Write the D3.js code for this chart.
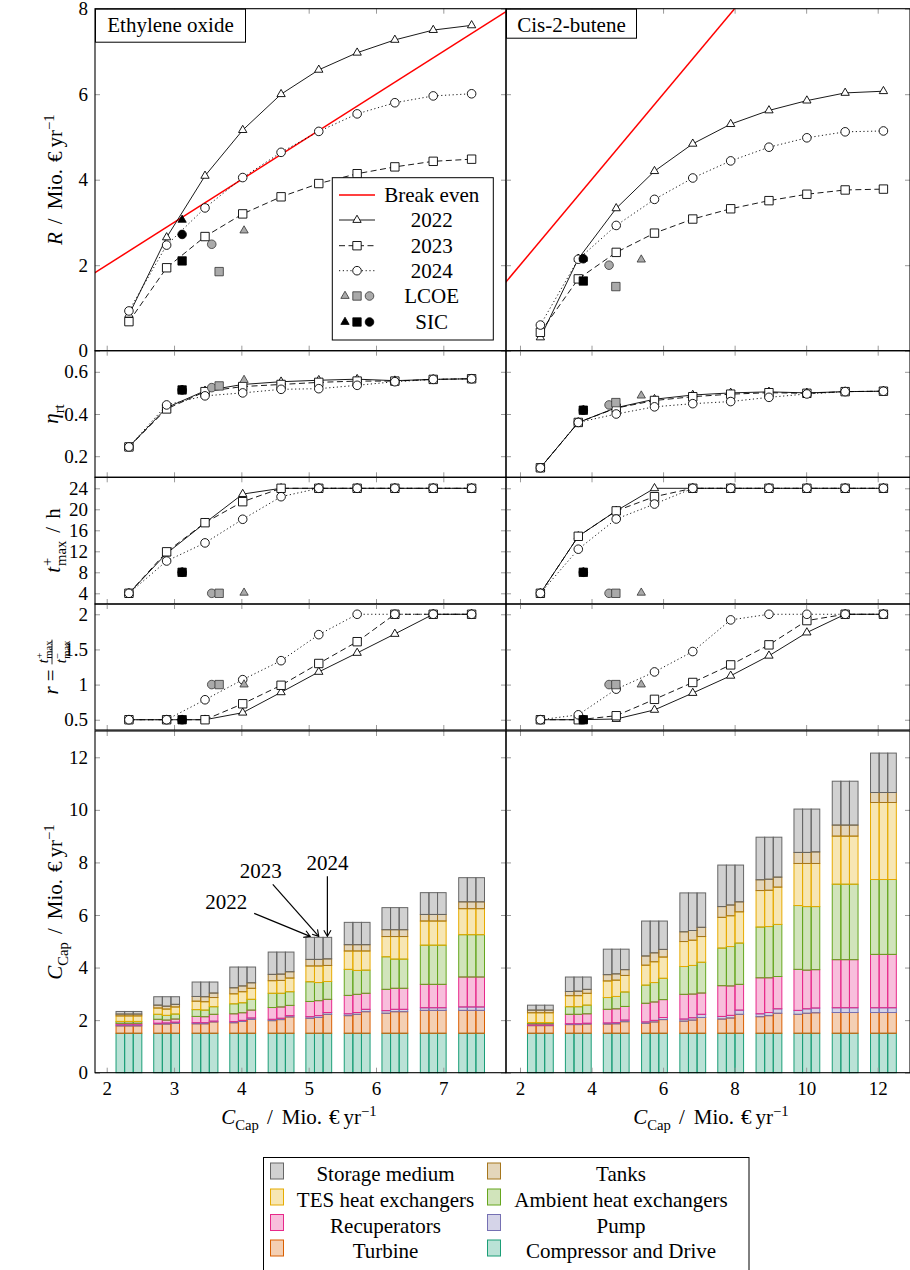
<!DOCTYPE html>
<html><head><meta charset="utf-8">
<script src="https://cdn.jsdelivr.net/npm/d3@7"></script>
<style>
body{margin:0;background:#fff}
svg{display:block}
svg text{font-family:"Liberation Serif","DejaVu Serif","Times New Roman",serif;fill:#000}
</style>
</head><body>
<svg id="c" width="910" height="1270" font-family="Liberation Serif, DejaVu Serif, serif"></svg>
<script>
// ---------------- DATA ----------------
const years = ["2022", "2023", "2024"];
// x positions (C_Cap, Mio. EUR/yr) of the ten design points
const eoC = [2.33, 2.89, 3.46, 4.02, 4.59, 5.15, 5.72, 6.28, 6.85, 7.42];
const cbC = [2.57, 3.63, 4.69, 5.76, 6.83, 7.89, 8.96, 10.02, 11.09, 12.16];

// x tick labels
const eoXTicks = [2, 3, 4, 5, 6, 7];
const cbXTicks = [2, 4, 6, 8, 10, 12];
// y tick labels
const rTicks = [0, 2, 4, 6, 8];
const etaTicks = [0.2, 0.4, 0.6];
const tTicks = [4, 8, 12, 16, 20, 24];
const ratioTicks = [0.5, 1, 1.5, 2];
const costTicks = [0, 2, 4, 6, 8, 10, 12];

// Break even line R = C
const breakEvenC = [0, 13];
const breakEvenR = [0, 13];

// Ethylene oxide: revenue R
const eoR2022 = [0.84, 2.65, 4.09, 5.16, 6.00, 6.57, 6.97, 7.27, 7.50, 7.61];
const eoR2023 = [0.68, 1.94, 2.67, 3.20, 3.60, 3.91, 4.14, 4.30, 4.43, 4.48];
const eoR2024 = [0.93, 2.47, 3.34, 4.05, 4.64, 5.13, 5.54, 5.80, 5.96, 6.01];
// Cis-2-butene: revenue R
const cbR2022 = [0.31, 2.15, 3.33, 4.20, 4.84, 5.30, 5.62, 5.85, 6.03, 6.07];
const cbR2023 = [0.43, 1.68, 2.30, 2.75, 3.08, 3.32, 3.51, 3.66, 3.76, 3.78];
const cbR2024 = [0.60, 2.14, 2.93, 3.54, 4.04, 4.44, 4.76, 4.98, 5.12, 5.14];

// round trip efficiency
const eoEta2022 = [0.244, 0.430, 0.510, 0.540, 0.553, 0.560, 0.565, 0.558, 0.564, 0.567];
const eoEta2023 = [0.244, 0.424, 0.506, 0.530, 0.540, 0.550, 0.556, 0.556, 0.564, 0.567];
const eoEta2024 = [0.244, 0.443, 0.486, 0.500, 0.517, 0.520, 0.536, 0.553, 0.564, 0.567];
const cbEta2022 = [0.145, 0.360, 0.430, 0.470, 0.490, 0.500, 0.505, 0.500, 0.506, 0.508];
const cbEta2023 = [0.145, 0.360, 0.428, 0.464, 0.482, 0.494, 0.501, 0.498, 0.506, 0.508];
const cbEta2024 = [0.145, 0.360, 0.400, 0.434, 0.449, 0.459, 0.479, 0.495, 0.506, 0.508];

// max charging time t+max (h)
const eoT2022 = [4, 11.6, 17.4, 22.9, 24, 24, 24, 24, 24, 24];
const eoT2023 = [4, 11.9, 17.45, 21.45, 24, 24, 24, 24, 24, 24];
const eoT2024 = [4, 10.15, 13.6, 18.1, 22.4, 24, 24, 24, 24, 24];
const cbT2022 = [4, 14.86, 19.7, 24, 24, 24, 24, 24, 24, 24];
const cbT2023 = [4, 14.86, 19.7, 22.4, 24, 24, 24, 24, 24, 24];
const cbT2024 = [4, 12.4, 18.15, 21.0, 24, 24, 24, 24, 24, 24];

// ratio r = t+max / t-max
const eoRatio2022 = [0.5, 0.5, 0.5, 0.60, 0.89, 1.18, 1.45, 1.72, 2.0, 2.0];
const eoRatio2023 = [0.5, 0.5, 0.5, 0.727, 0.99, 1.30, 1.61, 2.0, 2.0, 2.0];
const eoRatio2024 = [0.5, 0.5, 0.784, 1.07, 1.34, 1.71, 2.0, 2.0, 2.0, 2.0];
const cbRatio2022 = [0.5, 0.5, 0.51, 0.64, 0.88, 1.125, 1.41, 1.74, 2.0, 2.0];
const cbRatio2023 = [0.5, 0.5, 0.557, 0.79, 1.03, 1.28, 1.565, 1.91, 2.0, 2.0];
const cbRatio2024 = [0.5, 0.57, 0.935, 1.18, 1.47, 1.92, 2.0, 2.0, 2.0, 2.0];

// LCOE and SIC reference points, order [2022 (triangle), 2023 (square), 2024 (circle)]
const eoLcoeC = [4.04, 3.67, 3.56];
const eoLcoeR = [2.81, 1.85, 2.49];
const eoLcoeEta = [0.561, 0.533, 0.525];
const eoLcoeT = [4.1, 4, 4];
const eoLcoeRatio = [1.0, 1.0, 1.0];
const eoSicC = [3.12, 3.12, 3.12];
const eoSicR = [3.06, 2.10, 2.72];
const eoSicEta = [0.514, 0.514, 0.514];
const eoSicT = [8, 8, 8];
const eoSicRatio = [0.5, 0.5, 0.5];

const cbLcoeC = [5.39, 4.68, 4.49];
const cbLcoeR = [2.13, 1.50, 2.00];
const cbLcoeEta = [0.487, 0.454, 0.443];
const cbLcoeT = [4.1, 4, 4];
const cbLcoeRatio = [1.0, 1.0, 1.0];
const cbSicC = [3.77, 3.77, 3.77];
const cbSicR = [2.15, 1.63, 2.15];
const cbSicEta = [0.418, 0.418, 0.418];
const cbSicT = [8, 8, 8];
const cbSicRatio = [0.5, 0.5, 0.5];

// cost components (stack order bottom -> top)
const compNames = ["Compressor and Drive", "Turbine", "Pump", "Recuperators",
  "Ambient heat exchangers", "TES heat exchangers", "Tanks", "Storage medium"];
const compColors = ["#1b9e77", "#d95f02", "#7570b3", "#e7298a", "#66a61e", "#e6ab02", "#a6761d", "#666666"];

// Ethylene oxide cost components [2022, 2023, 2024] x 10 design points
const eoCompressor = [
  [1.5, 1.5, 1.5, 1.5, 1.5, 1.5, 1.5, 1.5, 1.5, 1.5],
  [1.5, 1.5, 1.5, 1.5, 1.5, 1.5, 1.5, 1.5, 1.5, 1.5],
  [1.5, 1.5, 1.5, 1.5, 1.5, 1.5, 1.5, 1.5, 1.5, 1.5]];
const eoTurbine = [
  [.28, .35, .36, .40, .48, .57, .67, .76, .87, .87],
  [.28, .35, .36, .45, .52, .60, .72, .82, .87, .87],
  [.28, .38, .43, .53, .62, .72, .82, .82, .87, .87]];
const eoPump = [
  [.04, .03, .04, .04, .05, .06, .07, .10, .10, .13],
  [.04, .04, .04, .04, .05, .07, .07, .09, .10, .13],
  [.04, .04, .03, .05, .05, .07, .09, .09, .10, .13]];
const eoRecup = [
  [.06, .15, .24, .30, .45, .58, .70, .81, .89, 1.14],
  [.06, .11, .23, .29, .43, .57, .69, .80, .89, 1.14],
  [.06, .12, .26, .30, .39, .50, .61, .80, .89, 1.14]];
const eoAmbient = [
  [.07, .19, .26, .38, .54, .75, .99, 1.24, 1.49, 1.61],
  [.07, .18, .25, .38, .52, .69, .91, 1.11, 1.49, 1.61],
  [.07, .19, .29, .41, .52, .68, .88, 1.11, 1.49, 1.61]];
const eoTes = [
  [.21, .24, .32, .38, .48, .60, .70, .77, .92, .99],
  [.21, .24, .32, .42, .49, .63, .74, .86, .92, .99],
  [.21, .27, .35, .42, .52, .61, .73, .86, .92, .99]];
const eoTanks = [
  [.07, .11, .18, .23, .24, .25, .24, .26, .25, .26],
  [.07, .11, .19, .22, .24, .25, .24, .26, .25, .26],
  [.07, .10, .17, .21, .24, .25, .24, .26, .25, .26]];
const eoStorage = [
  [.10, .32, .55, .79, .85, .84, .85, .84, .83, .92],
  [.10, .36, .56, .72, .84, .84, .85, .84, .83, .92],
  [.10, .29, .42, .60, .75, .82, .85, .84, .83, .92]];

// Cis-2-butene cost components
const cbCompressor = [
  [1.5, 1.5, 1.5, 1.5, 1.5, 1.5, 1.5, 1.5, 1.5, 1.5],
  [1.5, 1.5, 1.5, 1.5, 1.5, 1.5, 1.5, 1.5, 1.5, 1.5],
  [1.5, 1.5, 1.5, 1.5, 1.5, 1.5, 1.5, 1.5, 1.5, 1.5]];
const cbTurbine = [
  [.29, .33, .35, .38, .46, .54, .63, .72, .79, .79],
  [.29, .33, .36, .43, .50, .58, .67, .76, .79, .79],
  [.29, .35, .44, .52, .60, .72, .76, .78, .79, .79]];
const cbPump = [
  [.02, .03, .04, .05, .08, .10, .11, .15, .18, .18],
  [.02, .03, .04, .06, .09, .10, .12, .17, .18, .18],
  [.02, .03, .06, .08, .12, .16, .17, .18, .18, .18]];
const cbRecup = [
  [.05, .36, .52, .71, .94, 1.17, 1.37, 1.56, 1.83, 2.03],
  [.05, .36, .53, .70, .90, 1.12, 1.32, 1.47, 1.83, 2.03],
  [.05, .36, .52, .68, .81, .98, 1.23, 1.46, 1.83, 2.03]];
const cbAmbient = [
  [.05, .29, .45, .69, 1.06, 1.43, 1.93, 2.43, 2.87, 2.85],
  [.05, .29, .47, .74, 1.09, 1.50, 1.95, 2.42, 2.87, 2.85],
  [.05, .33, .55, .81, 1.17, 1.57, 1.98, 2.40, 2.87, 2.85]];
const cbTes = [
  [.37, .42, .63, .76, .95, 1.17, 1.39, 1.60, 1.83, 2.93],
  [.37, .42, .62, .79, .96, 1.17, 1.38, 1.64, 1.83, 2.93],
  [.37, .45, .63, .81, .98, 1.19, 1.42, 1.64, 1.83, 2.93]];
const cbTanks = [
  [.10, .16, .24, .35, .37, .41, .41, .42, .42, .38],
  [.10, .17, .24, .34, .37, .41, .42, .42, .42, .38],
  [.10, .15, .22, .29, .35, .38, .38, .44, .42, .38]];
const cbStorage = [
  [.19, .55, .97, 1.33, 1.48, 1.58, 1.62, 1.65, 1.67, 1.50],
  [.19, .54, .94, 1.21, 1.43, 1.52, 1.60, 1.65, 1.67, 1.50],
  [.19, .47, .78, 1.08, 1.31, 1.40, 1.52, 1.63, 1.67, 1.50]];

const eoCost = [eoCompressor, eoTurbine, eoPump, eoRecup, eoAmbient, eoTes, eoTanks, eoStorage];
const cbCost = [cbCompressor, cbTurbine, cbPump, cbRecup, cbAmbient, cbTes, cbTanks, cbStorage];

// ---------------- LAYOUT ----------------
const SERIF = "'Liberation Serif', 'DejaVu Serif', 'Times New Roman', serif";
const svg = d3.select("#c");
const X0 = 95, XM = 506, X1 = 910;
const xL = d3.scaleLinear().domain([1.826, 7.931]).range([X0, XM]);
const xR = d3.scaleLinear().domain([1.609, 12.903]).range([XM, X1]);
const yRev = d3.scaleLinear().domain([0, 8]).range([350.7, 8.7]);
const yEta = d3.scaleLinear().domain([0.1, 0.7]).range([477.3, 350.7]);
const yT = d3.scaleLinear().domain([1.962, 26.095]).range([604, 477.3]);
const yRatio = d3.scaleLinear().domain([0.354, 2.146]).range([730, 604]);
const yCost = d3.scaleLinear().domain([0, 13]).range([1072.7, 731]);

const FS = 21, TFS = 19;
const barW = 8.6;

// ---------------- HELPERS ----------------
function markerPath(type) {
  if (type === "tri") { const r = 4.8; return `M0,${-r}L${0.866 * r},${0.5 * r}L${-0.866 * r},${0.5 * r}Z`; }
  if (type === "sq") { const h = 4.2; return `M${-h},${-h}H${h}V${h}H${-h}Z`; }
  const r = 4.3; return `M${r},0A${r},${r} 0 1,1 ${-r},0A${r},${r} 0 1,1 ${r},0Z`;
}
const yearStyle = {
  "2022": { dash: null, mk: "tri" },
  "2023": { dash: "6,3.5", mk: "sq" },
  "2024": { dash: "1.2,2.6", mk: "circ" }
};

let clipId = 0;
function clipFor(xs, ys) {
  const id = "clip" + (clipId++);
  const [a, b] = xs.range(); const [c, d] = ys.range();
  svg.append("clipPath").attr("id", id).append("rect")
    .attr("x", a).attr("y", d).attr("width", b - a).attr("height", c - d);
  return `url(#${id})`;
}

function drawSeries(xs, ys, C, seriesList) {
  const g = svg.append("g");
  seriesList.forEach((vals, j) => {
    const st = yearStyle[years[j]];
    const line = d3.line().x((d, i) => xs(C[i])).y(d => ys(d));
    g.append("path").attr("d", line(vals)).attr("fill", "none")
      .attr("stroke", "#000").attr("stroke-width", 0.9)
      .attr("stroke-dasharray", st.dash);
    g.selectAll(null).data(vals).join("path")
      .attr("transform", (d, i) => `translate(${xs(C[i])},${ys(d)})`)
      .attr("d", markerPath(st.mk))
      .attr("fill", "#fff").attr("stroke", "#000").attr("stroke-width", 0.9);
  });
}

function drawRefPoints(xs, ys, cs, vs, fill) {
  const order = [0, 2, 1]; // triangle, circle, square (square on top)
  const mks = ["tri", "sq", "circ"];
  order.forEach(k => {
    svg.append("path").attr("transform", `translate(${xs(cs[k])},${ys(vs[k])})`)
      .attr("d", markerPath(mks[k])).attr("fill", fill)
      .attr("stroke", fill === "#000" ? "#000" : "#333").attr("stroke-width", 0.8);
  });
}

function styleAxis(g, showLabels) {
  g.select(".domain").remove();
  g.selectAll(".tick line").attr("stroke", "#9a9a9a").attr("stroke-width", 1);
  g.attr("font-family", SERIF).attr("font-size", TFS);
  g.selectAll(".tick text").attr("font-size", TFS).attr("fill", "#000")
    .attr("font-family", SERIF);
  if (!showLabels) g.selectAll(".tick text").remove();
}

function drawFrame(xs, ys, xTicks, yTicks, showY, showX) {
  const [a, b] = xs.range(); const [bot, top] = ys.range();
  const gT = svg.append("g").attr("transform", `translate(0,${top})`)
    .call(d3.axisTop(xs).tickValues(xTicks).tickSize(-5)); styleAxis(gT, false);
  const gB = svg.append("g").attr("transform", `translate(0,${bot})`)
    .call(d3.axisBottom(xs).tickValues(xTicks).tickSize(-5).tickPadding(9).tickFormat(d3.format("d")));
  styleAxis(gB, showX);
  const gL = svg.append("g").attr("transform", `translate(${a},0)`)
    .call(d3.axisLeft(ys).tickValues(yTicks).tickSize(-5).tickPadding(7).tickFormat(d => String(d)));
  styleAxis(gL, showY);
  const gR = svg.append("g").attr("transform", `translate(${b},0)`)
    .call(d3.axisRight(ys).tickValues(yTicks).tickSize(-5));
  styleAxis(gR, false);
  svg.append("rect").attr("x", a).attr("y", top).attr("width", b - a).attr("height", bot - top)
    .attr("fill", "none").attr("stroke", "#000").attr("stroke-width", 1.1);
}

function drawBars(xs, C, cost) {
  const g = svg.append("g");
  years.forEach((yr, j) => {
    const table = C.map((c, i) => {
      const o = { c: c };
      compNames.forEach((n, k) => { o[n] = cost[k][j][i]; });
      return o;
    });
    const stacked = d3.stack().keys(compNames)(table);
    stacked.forEach((layer, k) => {
      g.append("g").selectAll("rect").data(layer).join("rect")
        .attr("x", d => xs(d.data.c) + (j - 1.5) * barW)
        .attr("width", barW)
        .attr("y", d => yCost(d[1]))
        .attr("height", d => yCost(d[0]) - yCost(d[1]))
        .attr("fill", compColors[k]).attr("fill-opacity", 0.3)
        .attr("stroke", compColors[k]).attr("stroke-width", 1);
    });
  });
}

// math-like label made of runs
function mathLabel(parent, items, fs) {
  const g = parent.append("g");
  let x = 0;
  items.forEach(it => {
    if (it.s !== undefined) {
      const t = g.append("text").attr("x", x).attr("y", it.dy || 0)
        .attr("font-size", it.fs || fs).attr("font-style", it.it ? "italic" : "normal").text(it.s);
      x += t.node().getComputedTextLength() + (it.pad || 0);
    } else {
      const ws = [0];
      if (it.sup) {
        const t = g.append("text").attr("x", x).attr("y", -fs * 0.4).attr("font-size", fs * 0.7).text(it.sup);
        ws.push(t.node().getComputedTextLength());
      }
      if (it.sub) {
        const t = g.append("text").attr("x", x + (it.subOff || 0)).attr("y", fs * 0.27).attr("font-size", fs * 0.7).text(it.sub);
        ws.push(t.node().getComputedTextLength() + (it.subOff || 0));
      }
      x += Math.max(...ws) + (it.pad || 0);
    }
  });
  g.attr("transform", `translate(${-x / 2},0)`);
  return g;
}
const unitRuns = [{ s: "/", pad: 9 }, { s: "Mio.", pad: 7 }, { s: "€", pad: 4 }, { s: "yr" }, { sup: "−1" }];

// ---------------- DRAW ----------------
// bars
drawBars(xL, eoC, eoCost);
drawBars(xR, cbC, cbCost);

// break-even lines
[[xL, clipFor(xL, yRev)], [xR, clipFor(xR, yRev)]].forEach(([xs, cp]) => {
  svg.append("path").attr("clip-path", cp)
    .attr("d", d3.line().x((d, i) => xs(breakEvenC[i])).y(d => yRev(d))(breakEvenR))
    .attr("stroke", "#ff0000").attr("stroke-width", 1.5).attr("fill", "none");
});

// series
drawSeries(xL, yRev, eoC, [eoR2022, eoR2023, eoR2024]);
drawSeries(xR, yRev, cbC, [cbR2022, cbR2023, cbR2024]);
drawSeries(xL, yEta, eoC, [eoEta2022, eoEta2023, eoEta2024]);
drawSeries(xR, yEta, cbC, [cbEta2022, cbEta2023, cbEta2024]);
drawSeries(xL, yT, eoC, [eoT2022, eoT2023, eoT2024]);
drawSeries(xR, yT, cbC, [cbT2022, cbT2023, cbT2024]);
drawSeries(xL, yRatio, eoC, [eoRatio2022, eoRatio2023, eoRatio2024]);
drawSeries(xR, yRatio, cbC, [cbRatio2022, cbRatio2023, cbRatio2024]);

// LCOE (gray) and SIC (black)
const GRAY = "#aaaaaa";
drawRefPoints(xL, yRev, eoLcoeC, eoLcoeR, GRAY); drawRefPoints(xL, yRev, eoSicC, eoSicR, "#000");
drawRefPoints(xR, yRev, cbLcoeC, cbLcoeR, GRAY); drawRefPoints(xR, yRev, cbSicC, cbSicR, "#000");
drawRefPoints(xL, yEta, eoLcoeC, eoLcoeEta, GRAY); drawRefPoints(xL, yEta, eoSicC, eoSicEta, "#000");
drawRefPoints(xR, yEta, cbLcoeC, cbLcoeEta, GRAY); drawRefPoints(xR, yEta, cbSicC, cbSicEta, "#000");
drawRefPoints(xL, yT, eoLcoeC, eoLcoeT, GRAY); drawRefPoints(xL, yT, eoSicC, eoSicT, "#000");
drawRefPoints(xR, yT, cbLcoeC, cbLcoeT, GRAY); drawRefPoints(xR, yT, cbSicC, cbSicT, "#000");
drawRefPoints(xL, yRatio, eoLcoeC, eoLcoeRatio, GRAY); drawRefPoints(xL, yRatio, eoSicC, eoSicRatio, "#000");
drawRefPoints(xR, yRatio, cbLcoeC, cbLcoeRatio, GRAY); drawRefPoints(xR, yRatio, cbSicC, cbSicRatio, "#000");

// frames
drawFrame(xL, yRev, eoXTicks, rTicks, true, false);
drawFrame(xR, yRev, cbXTicks, rTicks, false, false);
drawFrame(xL, yEta, eoXTicks, etaTicks, true, false);
drawFrame(xR, yEta, cbXTicks, etaTicks, false, false);
drawFrame(xL, yT, eoXTicks, tTicks, true, false);
drawFrame(xR, yT, cbXTicks, tTicks, false, false);
drawFrame(xL, yRatio, eoXTicks, ratioTicks, true, false);
drawFrame(xR, yRatio, cbXTicks, ratioTicks, false, false);
drawFrame(xL, yCost, eoXTicks, costTicks, true, true);
drawFrame(xR, yCost, cbXTicks, costTicks, false, true);

// panel titles
function titleBox(x, y, w, h, label) {
  svg.append("rect").attr("x", x).attr("y", y).attr("width", w).attr("height", h)
    .attr("fill", "#fff").attr("stroke", "#000").attr("stroke-width", 1);
  svg.append("text").attr("x", x + w / 2).attr("y", y + 22.5).attr("text-anchor", "middle")
    .attr("font-size", FS).text(label);
}
titleBox(95.5, 9.2, 150, 33, "Ethylene oxide");
titleBox(506.5, 9.2, 130, 29, "Cis-2-butene");

// R legend
(function () {
  const lx = 332.3, ly = 177.7, lw = 161, lh = 162.3;
  svg.append("rect").attr("x", lx).attr("y", ly).attr("width", lw).attr("height", lh)
    .attr("fill", "#fff").attr("stroke", "#000").attr("stroke-width", 1);
  const rowsY = [195, 220, 245.7, 270.7, 296, 322];
  const labels = ["Break even", "2022", "2023", "2024", "LCOE", "SIC"];
  const sx0 = 339, sx1 = 375, sxm = 357, tx = 431.7;
  labels.forEach((lab, i) => {
    svg.append("text").attr("x", tx).attr("y", rowsY[i] + 7).attr("text-anchor", "middle")
      .attr("font-size", FS).text(lab);
  });
  svg.append("line").attr("x1", sx0).attr("x2", sx1).attr("y1", rowsY[0]).attr("y2", rowsY[0])
    .attr("stroke", "#ff0000").attr("stroke-width", 1.5);
  years.forEach((yr, j) => {
    const st = yearStyle[yr]; const y = rowsY[j + 1];
    svg.append("line").attr("x1", sx0).attr("x2", sx1).attr("y1", y).attr("y2", y)
      .attr("stroke", "#000").attr("stroke-width", 0.9).attr("stroke-dasharray", st.dash);
    svg.append("path").attr("transform", `translate(${sxm},${y})`).attr("d", markerPath(st.mk))
      .attr("fill", "#fff").attr("stroke", "#000").attr("stroke-width", 0.9);
  });
  const mks = ["tri", "sq", "circ"]; const offs = [-12, 0, 12.5];
  [[rowsY[4], GRAY], [rowsY[5], "#000"]].forEach(([y, f]) => {
    mks.forEach((m, k) => {
      svg.append("path").attr("transform", `translate(${sxm + offs[k]},${y})`).attr("d", markerPath(m))
        .attr("fill", f).attr("stroke", f === "#000" ? "#000" : "#333").attr("stroke-width", 0.8);
    });
  });
})();

// y-axis labels (rotated)
function yLabel(cx, cy, items) {
  const g = svg.append("g").attr("transform", `translate(${cx},${cy}) rotate(-90)`);
  mathLabel(g, items, FS);
}
yLabel(62, 179.7, [{ s: "R", it: true, pad: 8 }, ...unitRuns]);
yLabel(58, 414, [{ s: "η", it: true }, { sub: "rt" }]);
yLabel(60, 540.6, [{ s: "t", it: true, pad: 1 }, { sup: "+", sub: "max", pad: 8 }, { s: "/", pad: 8 }, { s: "h" }]);
yLabel(62, 902, [{ s: "C", it: true }, { sub: "Cap", pad: 8 }, ...unitRuns]);
// ratio label with fraction
(function () {
  const g = svg.append("g").attr("transform", `translate(58,667) rotate(-90)`);
  const inner = g.append("g");
  const t1 = inner.append("text").attr("x", 0).attr("y", 0).attr("font-size", FS).attr("font-style", "italic").text("r");
  let x = t1.node().getComputedTextLength() + 5;
  const t2 = inner.append("text").attr("x", x).attr("y", 0).attr("font-size", FS).text("=");
  x += t2.node().getComputedTextLength() + 5;
  const fs2 = 15;
  function frac(yBase, sup) {
    const f = inner.append("g");
    const a = f.append("text").attr("x", 0).attr("y", yBase).attr("font-size", fs2).attr("font-style", "italic").text("t");
    const w = a.node().getComputedTextLength() + 0.5;
    const b = f.append("text").attr("x", w).attr("y", yBase - 5).attr("font-size", 10.5).text(sup);
    const c = f.append("text").attr("x", w).attr("y", yBase + 3.5).attr("font-size", 10.5).text("max");
    return { f, w: w + Math.max(b.node().getComputedTextLength(), c.node().getComputedTextLength()) };
  }
  const num = frac(-10, "+");
  const den = frac(8, "−");
  const fw = Math.max(num.w, den.w) + 2;
  num.f.attr("transform", `translate(${x + (fw - num.w) / 2},0)`);
  den.f.attr("transform", `translate(${x + (fw - den.w) / 2},0)`);
  inner.append("line").attr("x1", x).attr("x2", x + fw).attr("y1", -6).attr("y2", -6)
    .attr("stroke", "#000").attr("stroke-width", 0.8);
  x += fw;
  inner.attr("transform", `translate(${-x / 2},0)`);
})();

// x-axis labels
[[299, xL], [711, xR]].forEach(([cx]) => {
  const g = svg.append("g").attr("transform", `translate(${cx},1124)`);
  mathLabel(g, [{ s: "C", it: true }, { sub: "Cap", pad: 8 }, ...unitRuns], FS);
});

// annotation arrows on 6th EO group
const annotGroup = 5;
const annotText = [
  { label: "2022", tx: -84, ty: -34, sx: -56, sy: -23 },
  { label: "2023", tx: -58, ty: -65, sx: -46, sy: -52 },
  { label: "2024", tx: 0, ty: -73, sx: 0, sy: -60 }];
svg.append("defs").append("marker").attr("id", "arr").attr("viewBox", "-7 -5 8 10")
  .attr("refX", 0).attr("refY", 0).attr("markerWidth", 8).attr("markerHeight", 10)
  .attr("markerUnits", "userSpaceOnUse").attr("orient", "auto")
  .append("path").attr("d", "M-6,-3.6L0,0L-6,3.6").attr("fill", "none").attr("stroke", "#000").attr("stroke-width", 1.1);
annotText.forEach((a, j) => {
  let total = 0; eoCost.forEach(comp => { total += comp[j][annotGroup]; });
  const tipX = xL(eoC[annotGroup]) + (j - 1) * barW;
  const tipY = yCost(total) - 1;
  svg.append("line").attr("x1", tipX + a.sx).attr("y1", tipY + a.sy).attr("x2", tipX).attr("y2", tipY)
    .attr("stroke", "#000").attr("stroke-width", 1.2).attr("marker-end", "url(#arr)");
  svg.append("text").attr("x", tipX + a.tx).attr("y", tipY + a.ty + 7).attr("text-anchor", "middle")
    .attr("font-size", FS).text(a.label);
});

// cost legend
(function () {
  svg.append("rect").attr("x", 263.5).attr("y", 1157.5).attr("width", 485.5).attr("height", 130)
    .attr("fill", "#fff").attr("stroke", "#000").attr("stroke-width", 1);
  const base = [1181, 1207, 1232.5, 1258];
  const order = [7, 6, 5, 4, 3, 2, 1, 0];
  order.forEach((k, idx) => {
    const row = Math.floor(idx / 2), col = idx % 2;
    const sx = col === 0 ? 270.5 : 487.5;
    const tx = col === 0 ? 385.5 : 621;
    svg.append("rect").attr("x", sx).attr("y", base[row] - 18).attr("width", 13).attr("height", 16)
      .attr("fill", compColors[k]).attr("fill-opacity", 0.3).attr("stroke", compColors[k]).attr("stroke-width", 1);
    svg.append("text").attr("x", tx).attr("y", base[row]).attr("text-anchor", "middle")
      .attr("font-size", FS).text(compNames[k]);
  });
})();

// make sure every text uses the serif family
svg.selectAll("text").attr("font-family", SERIF);
</script>
</body></html>
